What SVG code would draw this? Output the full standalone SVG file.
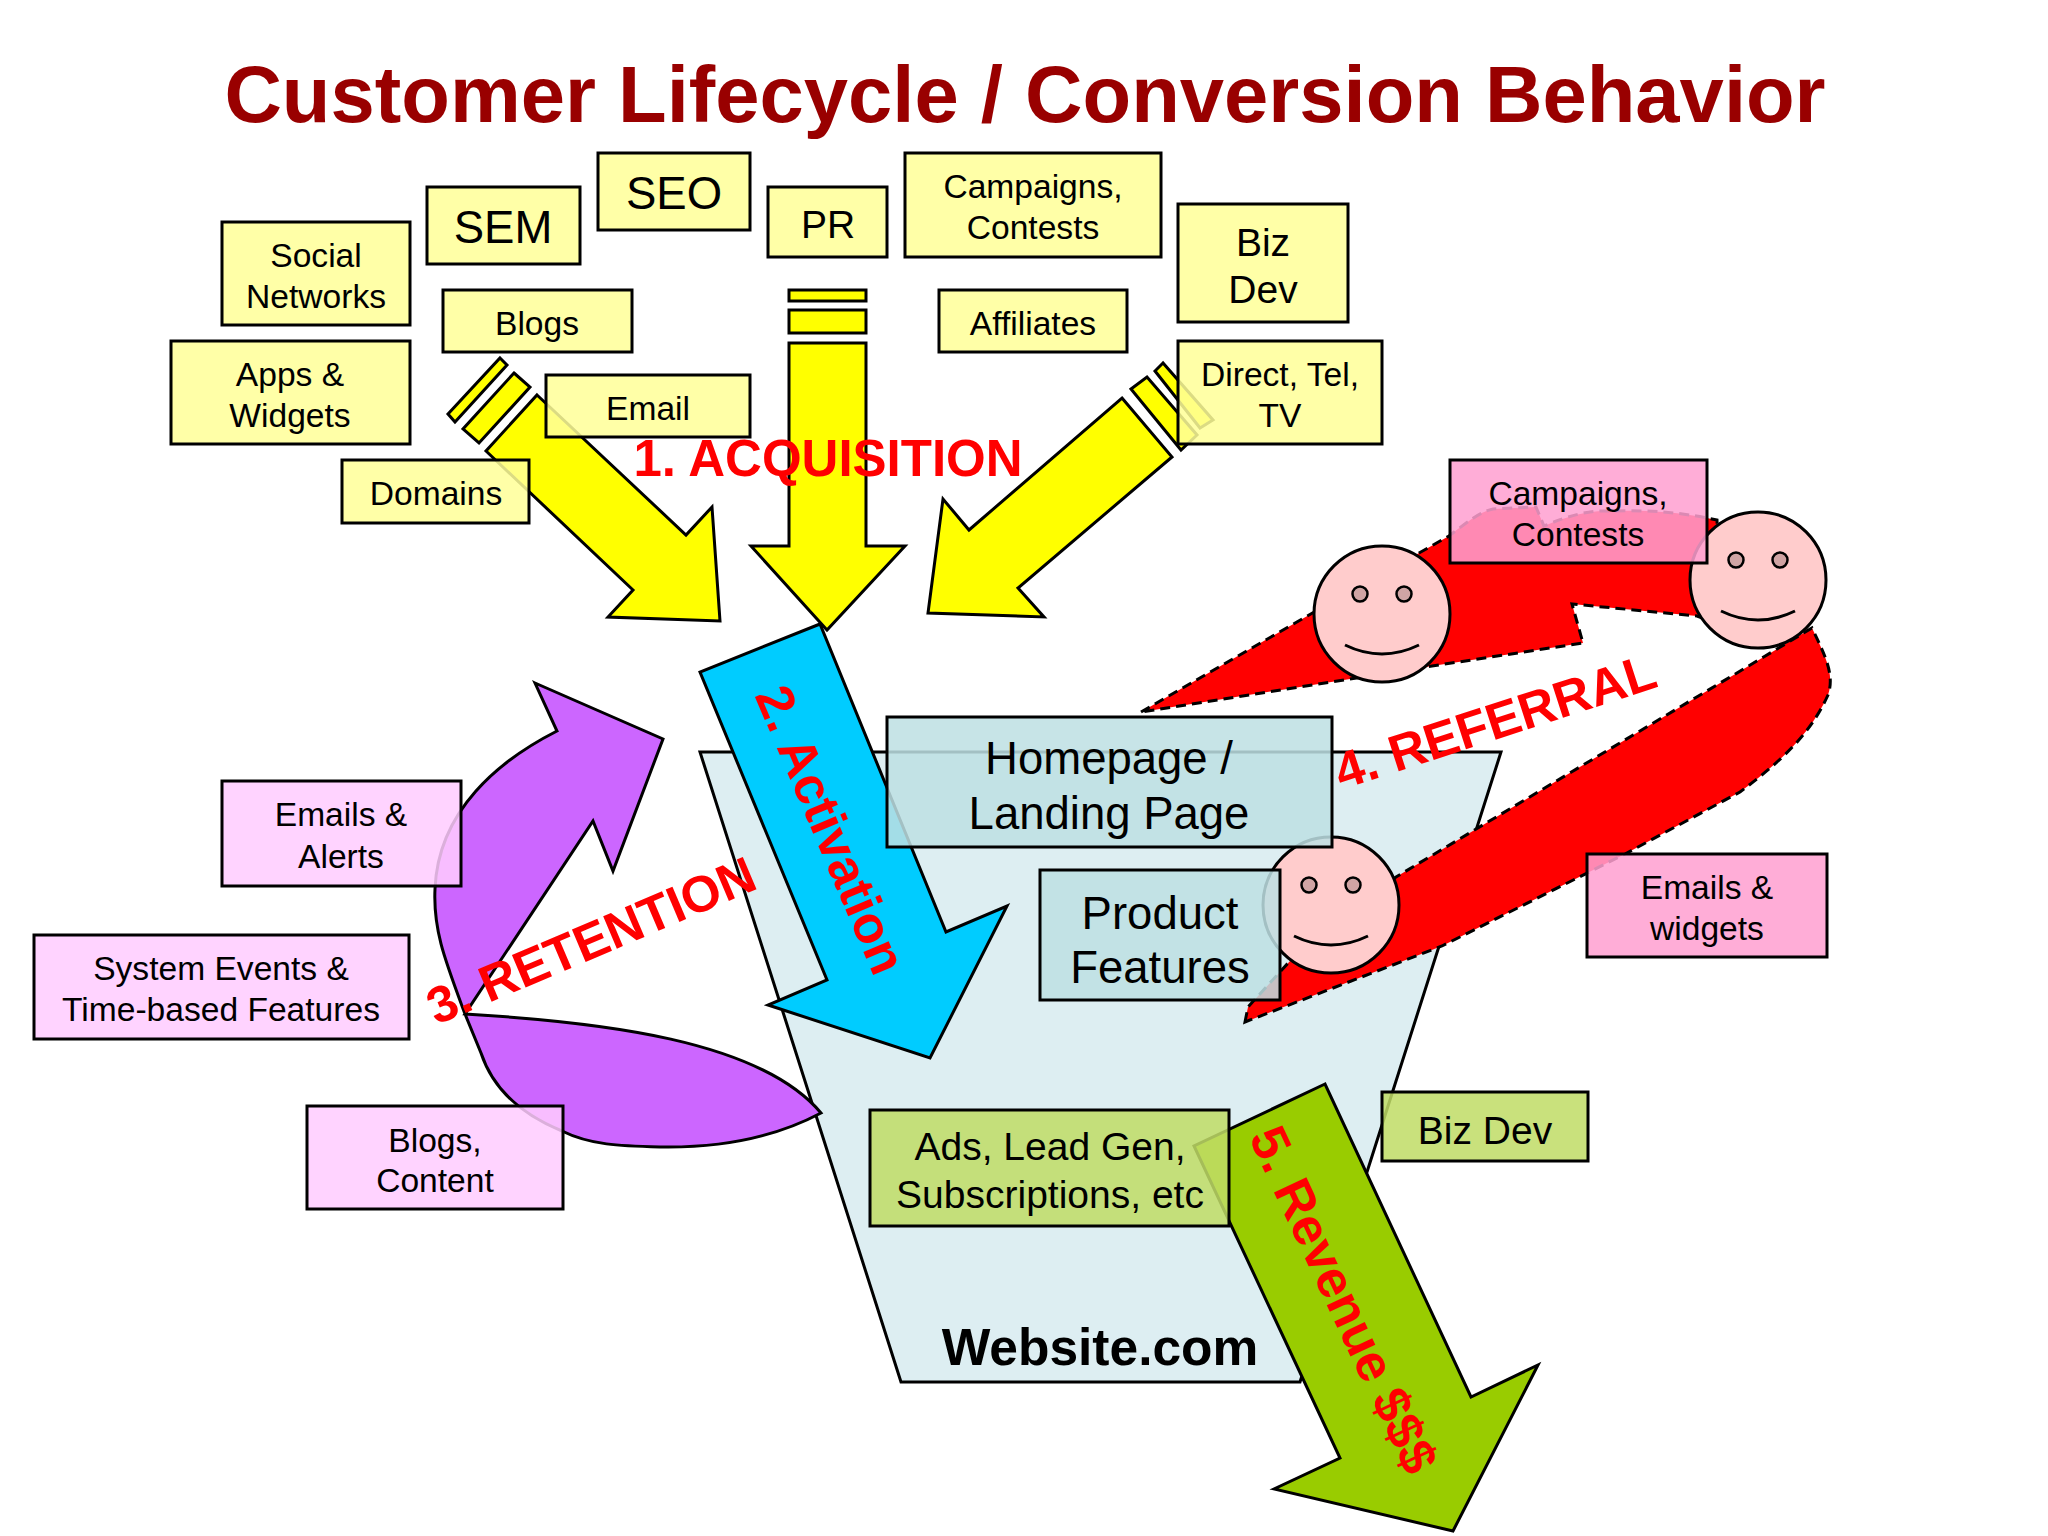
<svg xmlns="http://www.w3.org/2000/svg" width="2048" height="1536" viewBox="0 0 2048 1536">
<style>
text{font-family:"Liberation Sans",Arial,sans-serif;text-anchor:middle;fill:#000}
.s{font-size:33.6px}.m{font-size:39px}.l{font-size:45.5px}
.lab{font-weight:bold;fill:#f00;font-size:51px}
.box{stroke:#000;stroke-width:3;fill-opacity:.86}
.y{fill:#FFFF99}.p{fill:#FFA0D0}.v{fill:#FFCCFF}.t{fill:#BEE0E3}.g{fill:#C0DC66}
.ya{fill:#FF0;stroke:#000;stroke-width:3;stroke-linejoin:miter}
.face{fill:#FFCCCC;stroke:#000;stroke-width:3}
.eye{fill:#D0A4A4;stroke:#000;stroke-width:2.5}
.sm{fill:none;stroke:#000;stroke-width:3}
.ref{fill:#F00;stroke:#000;stroke-width:3;stroke-dasharray:10 6}
</style>
<defs>
<g id="smiley">
<circle class="face" r="68"/>
<circle class="eye" cx="-22" cy="-20" r="7.5"/>
<circle class="eye" cx="22" cy="-20" r="7.5"/>
<path class="sm" d="M-37,31 Q0,49 37,31"/>
</g>
</defs>
<rect width="2048" height="1536" fill="#fff"/>
<text id="title" x="1025" y="122" font-size="79.6" font-weight="bold" style="fill:#990000">Customer Lifecycle / Conversion Behavior</text>

<g id="website">
<polygon points="700,752 1501,752 1300,1382 901,1382" fill="#DDEEF2" stroke="#000" stroke-width="3"/>
<text x="1100" y="1365" font-size="51.5" font-weight="bold">Website.com</text>
</g>

<g id="connectors">
<path id="retention-arrow" d="M535,683 L663,739 L613,871 L593,821 L465,1014 C600,1022 760,1040 821,1113 C770,1140 715,1148 660,1147 C620,1146 590,1145 562,1131 C510,1110 490,1080 481,1053 L465,1014 C445,960 433,930 435,889 C438,810 500,760 557,731 Z" fill="#CC66FF" stroke="#000" stroke-width="3" stroke-linejoin="miter"/>
<polygon id="activation-arrow" points="820,624 700,672 827,980 768,1005 930,1058 1007,906 946,932" fill="#00CCFF" stroke="#000" stroke-width="3"/>
<g id="acq-left" class="ya">
<polygon points="500,358 507,365 455,422 448,414"/>
<polygon points="514,373 530,387 479,443 463,429"/>
<polygon points="537,395 686,535 712,507 720,621 608,617 633,590 486,451"/>
</g>
<g id="acq-center" class="ya">
<rect x="789" y="290" width="77" height="11"/>
<rect x="789" y="310" width="77" height="23"/>
<polygon points="789,343 866,343 866,546 905,546 827,630 751,546 789,546"/>
</g>
<g id="acq-right" class="ya">
<polygon points="1163,363 1155,371 1200,428 1213,420"/>
<polygon points="1131,389 1147,377 1197,435 1181,450"/>
<polygon points="1122,398 1172,457 1018,588 1044,617 928,613 943,499 969,530"/>
</g>
<g id="referral-arrow" class="ref">
<path d="M1141,712 L1309,615 L1419,553 L1449,536 C1470,520 1480,512 1493,509 L1536,507 L1544,526 C1570,515 1590,510 1610,511 C1650,510 1680,512 1717,520 L1720,625 L1697,616 L1572,604 L1583,643 L1432,666 L1350,679 Z"/>
<path d="M1245,1022 L1248,1007 L1300,950 L1396,877 L1812,628 C1825,655 1835,675 1828,695 C1810,735 1780,762 1740,792 L1625,854 L1442,946 Z"/>
</g>
<polygon id="revenue-arrow" points="1325,1084 1194,1146 1340,1458 1274,1489 1453,1531 1538,1365 1471,1397" fill="#99CC00" stroke="#000" stroke-width="3"/>
</g>

<use id="face-1" href="#smiley" x="1382" y="614"/>
<use id="face-2" href="#smiley" x="1758" y="580"/>
<use id="face-3" href="#smiley" x="1331" y="905"/>

<g id="social"><rect class="box y" x="222" y="222" width="188" height="103"/><text class="s" x="316" y="267">Social</text><text class="s" x="316" y="308">Networks</text></g>
<g id="sem"><rect class="box y" x="427" y="187" width="153" height="77"/><text class="l" x="503" y="243">SEM</text></g>
<g id="seo"><rect class="box y" x="598" y="153" width="152" height="77"/><text class="l" x="674" y="209">SEO</text></g>
<g id="pr"><rect class="box y" x="768" y="187" width="119" height="70"/><text class="m" x="828" y="238">PR</text></g>
<g id="campaigns"><rect class="box y" x="905" y="153" width="256" height="104"/><text class="s" x="1033" y="198">Campaigns,</text><text class="s" x="1033" y="239">Contests</text></g>
<g id="bizdev"><rect class="box y" x="1178" y="204" width="170" height="118"/><text class="m" x="1263" y="256">Biz</text><text class="m" x="1263" y="303">Dev</text></g>
<g id="blogs"><rect class="box y" x="443" y="290" width="189" height="62"/><text class="s" x="537" y="335">Blogs</text></g>
<g id="affiliates"><rect class="box y" x="939" y="290" width="188" height="62"/><text class="s" x="1033" y="335">Affiliates</text></g>
<g id="apps"><rect class="box y" x="171" y="341" width="239" height="103"/><text class="s" x="290" y="386">Apps &amp;</text><text class="s" x="290" y="427">Widgets</text></g>
<g id="email"><rect class="box y" x="546" y="375" width="204" height="62"/><text class="s" x="648" y="420">Email</text></g>
<g id="direct"><rect class="box y" x="1178" y="341" width="204" height="103"/><text class="s" x="1280" y="386">Direct, Tel,</text><text class="s" x="1280" y="427">TV</text></g>
<g id="domains"><rect class="box y" x="342" y="460" width="187" height="63"/><text class="s" x="436" y="505">Domains</text></g>

<g id="campaigns-ref"><rect class="box p" x="1450" y="460" width="257" height="103"/><text class="s" x="1578" y="505">Campaigns,</text><text class="s" x="1578" y="546">Contests</text></g>
<g id="emails-widgets"><rect class="box p" x="1587" y="854" width="240" height="103"/><text class="s" x="1707" y="899">Emails &amp;</text><text class="s" x="1707" y="940">widgets</text></g>

<g id="emails-alerts"><rect class="box v" x="222" y="781" width="239" height="105"/><text class="s" x="341" y="826">Emails &amp;</text><text class="s" x="341" y="868">Alerts</text></g>
<g id="system-events"><rect class="box v" x="34" y="935" width="375" height="104"/><text class="s" x="221" y="980">System Events &amp;</text><text class="s" x="221" y="1021">Time-based Features</text></g>
<g id="blogs-content"><rect class="box v" x="307" y="1106" width="256" height="103"/><text class="s" x="435" y="1152">Blogs,</text><text class="s" x="435" y="1192">Content</text></g>

<g id="homepage"><rect class="box t" x="887" y="717" width="445" height="130"/><text class="l" x="1109" y="774">Homepage /</text><text class="l" x="1109" y="829">Landing Page</text></g>
<g id="product"><rect class="box t" x="1040" y="870" width="240" height="130"/><text class="l" x="1160" y="929">Product</text><text class="l" x="1160" y="983">Features</text></g>
<g id="ads"><rect class="box g" x="870" y="1110" width="359" height="116"/><text class="m" x="1050" y="1160">Ads, Lead Gen,</text><text class="m" x="1050" y="1208">Subscriptions, etc</text></g>
<g id="bizdev-green"><rect class="box g" x="1382" y="1092" width="206" height="69"/><text class="m" x="1485" y="1144">Biz Dev</text></g>

<g id="labels">
<text class="lab" x="828" y="476">1. ACQUISITION</text>
<text class="lab" style="font-size:52px" transform="translate(830,830) rotate(67)" y="17">2. Activation</text>
<text class="lab" transform="translate(591,940) rotate(-23)" y="18">3. RETENTION</text>
<text class="lab" transform="translate(1495,721) rotate(-18)" y="18">4. REFERRAL</text>
<text class="lab" style="font-size:52px" transform="translate(1343,1300) rotate(65)" y="17">5. Revenue $$$</text>
</g>
</svg>
